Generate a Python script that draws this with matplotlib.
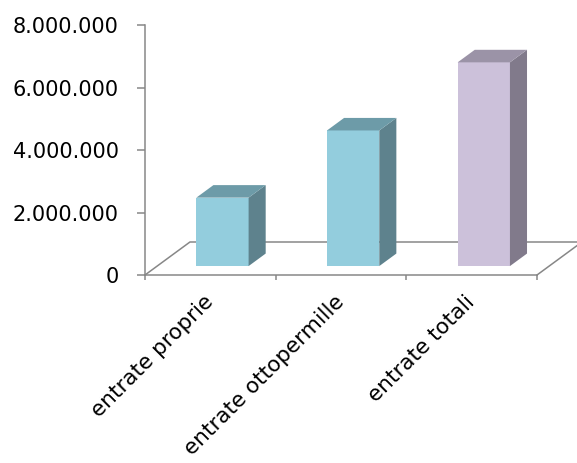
import matplotlib
matplotlib.use('Agg')
import matplotlib.pyplot as plt
from matplotlib.patches import Polygon

categories = ['entrate proprie', 'entrate ottopermille', 'entrate totali']
values = [2190000, 4340000, 6520000]
front_colors = ['#93CDDD', '#93CDDD', '#CCC1DA']
side_colors = ['#5E828D', '#5E828D', '#817A8B']
top_colors = ['#6D9BA8', '#6D9BA8', '#9B93A7']
yticks = [0, 2000000, 4000000, 6000000, 8000000]
ytick_labels = ['0', '2.000.000', '4.000.000', '6.000.000', '8.000.000']

# fake 3d: depth of the floor in data units, bar placed inside that depth
floor_dx, floor_dy = 0.344, 1056000
bar_front, bar_depth = 0.27, 0.38
bar_w = 0.40
grey = '#878787'

plt.rcParams['font.family'] = ['DejaVu Sans']
fig = plt.figure(figsize=(5.77, 4.63), dpi=100)
ax = fig.add_axes([145/577, 1-275/463, 392/577, 250/463])
ax.set_xlim(0, len(categories))
ax.set_ylim(0, 8000000)

# floor
n = len(categories)
ax.plot([0, floor_dx, n + floor_dx], [0, floor_dy, floor_dy], color=grey, lw=1.1, clip_on=False, zorder=1)
ax.plot([n, n + floor_dx], [0, floor_dy], color=grey, lw=1.1, clip_on=False, zorder=1)

x0 = [i + 0.5 - bar_w/2 + bar_front*floor_dx for i in range(n)]
y0 = bar_front*floor_dy
ax.bar(x0, values, width=bar_w, bottom=y0, align='edge', color=front_colors, zorder=3, linewidth=0)
ddx, ddy = bar_depth*floor_dx, bar_depth*floor_dy
for x, v, sc, tc in zip(x0, values, side_colors, top_colors):
    top = y0 + v
    ax.add_patch(Polygon([(x + bar_w, y0), (x + bar_w + ddx, y0 + ddy), (x + bar_w + ddx, top + ddy), (x + bar_w, top)],
                         closed=True, facecolor=sc, edgecolor='none', zorder=3))
    ax.add_patch(Polygon([(x, top), (x + ddx, top + ddy), (x + bar_w + ddx, top + ddy), (x + bar_w, top)],
                         closed=True, facecolor=tc, edgecolor='none', zorder=3))

for s in ['top', 'right']:
    ax.spines[s].set_visible(False)
for s in ['left', 'bottom']:
    ax.spines[s].set_color(grey)
    ax.spines[s].set_linewidth(1.1)
    ax.spines[s].set_zorder(2)

ax.set_yticks(yticks)
ax.set_yticklabels(ytick_labels)
ax.tick_params(axis='y', length=6, width=1.1, color=grey, pad=13, labelsize=15, labelcolor='black')

ax.set_xticks(range(n + 1))
ax.set_xticklabels([])
ax.tick_params(axis='x', which='major', length=3.5, width=1.1, color=grey)
ax.set_xticks([i + 0.5 for i in range(n)], minor=True)
ax.set_xticklabels(categories, minor=True, rotation=45, ha='right', va='center', rotation_mode='anchor')
ax.tick_params(axis='x', which='minor', length=0, pad=17, labelsize=15.5, labelcolor='black')

ax.patch.set_alpha(0)
fig.savefig('out.png', dpi=100)
